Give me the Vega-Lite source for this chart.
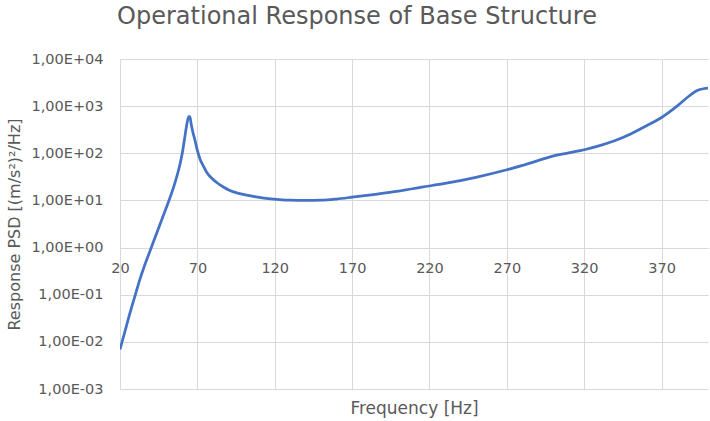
{
  "$schema": "https://vega.github.io/schema/vega-lite/v6.json",
  "width": 588,
  "height": 330,
  "autosize": {"type": "none"},
  "padding": {"left": 120, "top": 59, "right": 2, "bottom": 32},
  "background": "white",
  "title": {
    "text": "Operational Response of Base Structure",
    "font": "DejaVu Sans",
    "fontSize": 24,
    "fontWeight": "normal",
    "color": "#595959",
    "anchor": "middle",
    "frame": "bounds",
    "baseline": "alphabetic",
    "offset": 3
  },
  "config": {
    "view": {"stroke": null},
    "axis": {
      "labelFont": "DejaVu Sans",
      "titleFont": "DejaVu Sans",
      "labelColor": "#595959",
      "titleColor": "#595959",
      "labelFontSize": 14.5,
      "titleFontSize": 16,
      "titleFontWeight": "normal",
      "gridColor": "#d9d9d9",
      "gridWidth": 1
    }
  },
  "data": {
    "values": [
      {"f": 20, "psd": 0.00692},
      {"f": 22, "psd": 0.012},
      {"f": 24, "psd": 0.0209},
      {"f": 26, "psd": 0.0363},
      {"f": 28, "psd": 0.0617},
      {"f": 30, "psd": 0.102},
      {"f": 33, "psd": 0.219},
      {"f": 36, "psd": 0.427},
      {"f": 40, "psd": 0.955},
      {"f": 44, "psd": 2.14},
      {"f": 48, "psd": 4.79},
      {"f": 52, "psd": 10.7},
      {"f": 55, "psd": 20.9},
      {"f": 57, "psd": 34.7},
      {"f": 59, "psd": 63.1},
      {"f": 60.5, "psd": 112},
      {"f": 62, "psd": 234},
      {"f": 63, "psd": 380},
      {"f": 64, "psd": 550},
      {"f": 64.7, "psd": 603},
      {"f": 65.3, "psd": 575},
      {"f": 66, "psd": 417},
      {"f": 67, "psd": 288},
      {"f": 68.5, "psd": 186},
      {"f": 70, "psd": 115},
      {"f": 71.7, "psd": 75.9},
      {"f": 74, "psd": 52.5},
      {"f": 76, "psd": 39.8},
      {"f": 79, "psd": 30.2},
      {"f": 82.5, "psd": 24.0},
      {"f": 86, "psd": 20.0},
      {"f": 91, "psd": 16.2},
      {"f": 96, "psd": 14.3},
      {"f": 102, "psd": 12.9},
      {"f": 107, "psd": 12.0},
      {"f": 113, "psd": 11.2},
      {"f": 123, "psd": 10.4},
      {"f": 130, "psd": 10.1},
      {"f": 140, "psd": 10.0},
      {"f": 150, "psd": 10.1},
      {"f": 160, "psd": 10.7},
      {"f": 170, "psd": 11.7},
      {"f": 185, "psd": 13.5},
      {"f": 200, "psd": 15.8},
      {"f": 215, "psd": 19.1},
      {"f": 230, "psd": 22.9},
      {"f": 250, "psd": 30.9},
      {"f": 270, "psd": 44.7},
      {"f": 285, "psd": 62},
      {"f": 298, "psd": 84},
      {"f": 310, "psd": 102},
      {"f": 320, "psd": 119},
      {"f": 330, "psd": 145},
      {"f": 340, "psd": 186},
      {"f": 350, "psd": 257},
      {"f": 360, "psd": 380},
      {"f": 370, "psd": 575},
      {"f": 380, "psd": 1000},
      {"f": 388, "psd": 1660},
      {"f": 393, "psd": 2140},
      {"f": 397, "psd": 2340},
      {"f": 400, "psd": 2400}
    ]
  },
  "mark": {"type": "line", "color": "#4472C4", "strokeWidth": 2.75, "interpolate": "monotone", "clip": true},
  "encoding": {
    "x": {
      "field": "f",
      "type": "quantitative",
      "scale": {"domain": [20, 400], "nice": false, "zero": false},
      "axis": {
        "title": "Frequency [Hz]",
        "values": [20, 70, 120, 170, 220, 270, 320, 370],
        "grid": true,
        "offset": -141,
        "domain": true,
        "domainColor": "#d9d9d9",
        "ticks": false,
        "labelPadding": 13,
        "labelFlush": false,
        "titleY": 160,
        "titleFontSize": 17,
        "titleBaseline": "middle"
      }
    },
    "y": {
      "field": "psd",
      "type": "quantitative",
      "scale": {"type": "log", "domain": [0.001, 10000], "nice": false},
      "axis": {
        "title": "Response PSD [(m/s²)²/Hz]",
        "values": [0.001, 0.01, 0.1, 1, 10, 100, 1000, 10000],
        "grid": true,
        "domain": false,
        "ticks": false,
        "labelPadding": 17,
        "labelExpr": "'1,00E' + (round(log(datum.value)/LN10) < 0 ? '-' : '+') + (abs(round(log(datum.value)/LN10)) < 10 ? '0' : '') + abs(round(log(datum.value)/LN10))",
        "titleX": -106,
        "titleBaseline": "middle"
      }
    }
  }
}
